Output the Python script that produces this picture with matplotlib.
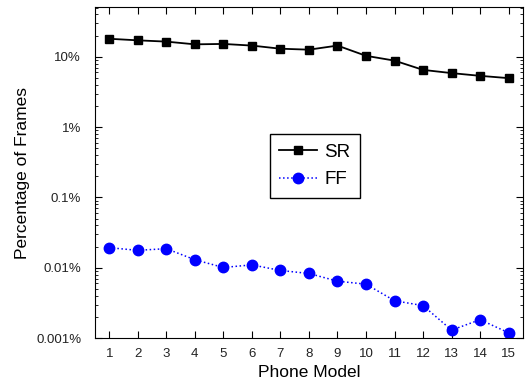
import numpy as np
import matplotlib.pyplot as plt
from matplotlib.ticker import LogLocator, NullFormatter

plt.rcParams['font.family'] = ['Liberation Sans', 'DejaVu Sans']

# Data (percent of frames per phone model)
models = list(range(1, 16))
sr = [18.0, 17.1, 16.4, 15.0, 15.2, 14.4, 13.0, 12.6, 14.4, 10.3, 8.8, 6.5, 5.85, 5.35, 4.96]
ff = [0.0193, 0.0177, 0.0187, 0.0130, 0.0101, 0.0110, 0.00916, 0.0083, 0.00645,
      0.00585, 0.0034, 0.0029, 0.0013, 0.00183, 0.00119]
yticks = [0.001, 0.01, 0.1, 1, 10]
ylabels = ['0.001%', '0.01%', '0.1%', '1%', '10%']

fig = plt.figure(figsize=(5.25, 3.86), dpi=100)
ax = fig.add_axes([0.181, 0.124, 0.815, 0.858])

ax.plot(models, sr, color='black', marker='s', markersize=6, linewidth=1.3, label='SR')
ax.plot(models, ff, color='blue', marker='o', markersize=7.5, linewidth=1.1,
        linestyle=':', label='FF')

ax.set_yscale('log')
ax.set_ylim(0.001, 51)
ax.set_xlim(0.5, 15.5)
ax.set_xticks(models)
ax.set_yticks(yticks)
ax.set_yticklabels(ylabels)
ax.yaxis.set_minor_locator(LogLocator(base=10, subs=np.arange(2, 10)))
ax.yaxis.set_minor_formatter(NullFormatter())

ax.tick_params(which='both', direction='in', top=True, right=True, labelsize=9.5,
               labelcolor='#222222')
ax.tick_params(which='major', length=5)
ax.tick_params(axis='y', which='major', pad=10)
ax.tick_params(axis='x', which='major', pad=7)
ax.tick_params(which='minor', length=2.5)

ax.set_xlabel('Phone Model', fontsize=12.5)
ax.set_ylabel('Percentage of Frames', fontsize=12.5)

leg = ax.legend(loc='center', bbox_to_anchor=(0.514, 0.52), fontsize=13.5,
                fancybox=False, framealpha=1, edgecolor='black',
                handlelength=2.0, handletextpad=0.4, borderpad=0.5,
                labelspacing=0.55)
leg.get_frame().set_linewidth(1.0)

fig.savefig('out.png', dpi=100)
